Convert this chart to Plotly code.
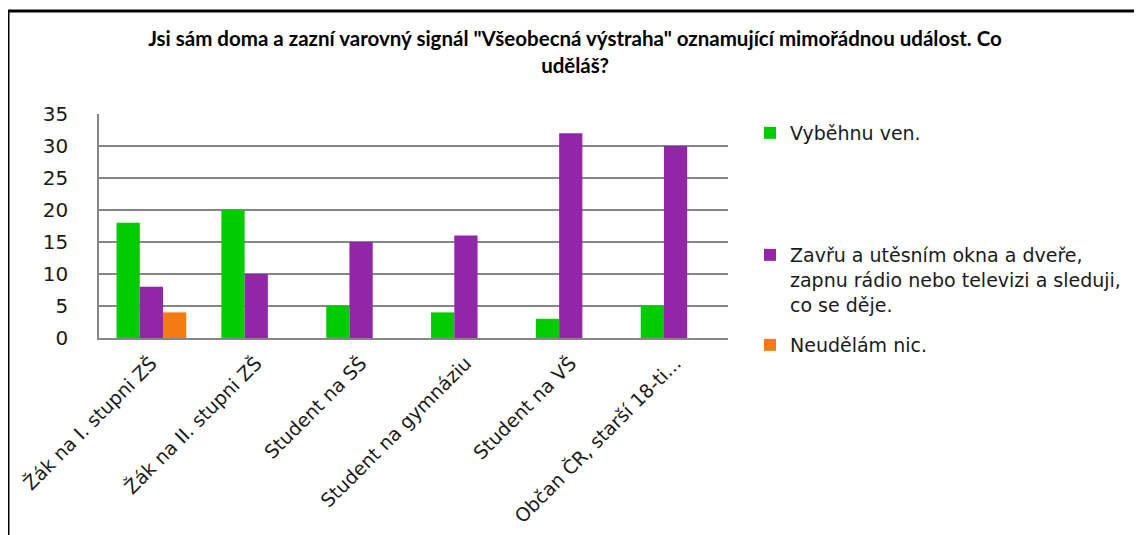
import plotly.graph_objects as go

# Survey answers by group of respondents
categories = [
    "Žák na I. stupni ZŠ",
    "Žák na II. stupni ZŠ",
    "Student na SŠ",
    "Student na gymnáziu",
    "Student na VŠ",
    "Občan ČR, starší 18-ti...",
]
run_outside = [18, 20, 5, 4, 3, 5]
close_and_listen = [8, 10, 15, 16, 32, 30]
do_nothing = [4, 0, 0, 0, 0, 0]

series_names = [
    "Vyběhnu ven.",
    "Zavřu a utěsním okna a dveře,<br>zapnu rádio nebo televizi a sleduji,<br>co se děje.",
    "Neudělám nic.",
]
series_colors = ["#00CC00", "#9226A8", "#F47B13"]

title_text = 'Jsi sám doma a zazní varovný signál "Všeobecná výstraha" oznamující mimořádnou událost. Co<br>uděláš?'

# the page body adds an 8px margin, so the figure is drawn 8px in from the window corner
OFFSET = 8
W, H = 1142 - OFFSET, 535 - OFFSET
# plot area in window pixels
PLOT_L, PLOT_R, PLOT_T, PLOT_B = 99, 728, 114, 338


def px_x(x):
    return (x - PLOT_L) / (PLOT_R - PLOT_L)


def px_y(y):
    return (PLOT_B - y) / (PLOT_B - PLOT_T)


fig = go.Figure()
legend_ids = ["legend", "legend2", "legend3"]
for name, values, color, leg in zip(series_names, [run_outside, close_and_listen, do_nothing], series_colors, legend_ids):
    fig.add_trace(
        go.Bar(
            x=categories,
            y=values,
            name=name,
            marker={"color": color, "line": {"width": 0}},
            legend=leg,
            showlegend=True,
        )
    )

text_color = "#1a1a1a"
legend_common = dict(
    x=px_x(750),
    xanchor="left",
    yanchor="top",
    valign="top",
    font={"family": "DejaVu Sans", "size": 19, "color": text_color},
    bgcolor="rgba(0,0,0,0)",
    borderwidth=0,
)

fig.update_layout(
    width=W,
    height=H,
    margin={
        "l": PLOT_L - OFFSET,
        "r": W - (PLOT_R - OFFSET),
        "t": PLOT_T - OFFSET,
        "b": H - (PLOT_B - OFFSET),
        "pad": 0,
    },
    paper_bgcolor="white",
    plot_bgcolor="white",
    showlegend=True,
    barmode="group",
    bargap=0.335,
    bargroupgap=0,
    title={
        "text": title_text,
        "x": 0.5,
        "xref": "container",
        "xanchor": "center",
        "y": 1 - (46 - OFFSET) / H,
        "yanchor": "middle",
        "font": {"family": "Lato", "size": 20.5, "color": "black", "weight": "bold"},
    },
    legend={**legend_common, "y": px_y(114)},
    legend2={**legend_common, "y": px_y(236)},
    legend3={**legend_common, "y": px_y(326)},
    shapes=[
        # outer chart frame (top and left edges visible)
        dict(type="line", xref="paper", yref="paper", x0=px_x(OFFSET), x1=px_x(1142), y0=px_y(11), y1=px_y(11),
             line={"color": "black", "width": 3}),
        dict(type="line", xref="paper", yref="paper", x0=px_x(OFFSET + 0.75), x1=px_x(OFFSET + 0.75),
             y0=px_y(11), y1=px_y(535), line={"color": "black", "width": 1.5}),
    ],
)

fig.update_xaxes(
    tickangle=-45,
    tickfont={"family": "DejaVu Sans", "size": 19, "color": text_color},
    ticklabelstandoff=5,
    showline=True,
    linecolor="#868686",
    linewidth=1.5,
    showgrid=False,
    ticks="",
    automargin=False,
)
fig.update_yaxes(
    range=[0, 35],
    dtick=5,
    tickfont={"family": "DejaVu Sans", "size": 20, "color": text_color},
    showgrid=True,
    gridcolor="#868686",
    gridwidth=1.5,
    showline=True,
    linecolor="#868686",
    linewidth=1.5,
    ticks="outside",
    ticklen=25,
    tickcolor="rgba(0,0,0,0)",
    zeroline=False,
    automargin=False,
)

fig.write_html("out.html")
